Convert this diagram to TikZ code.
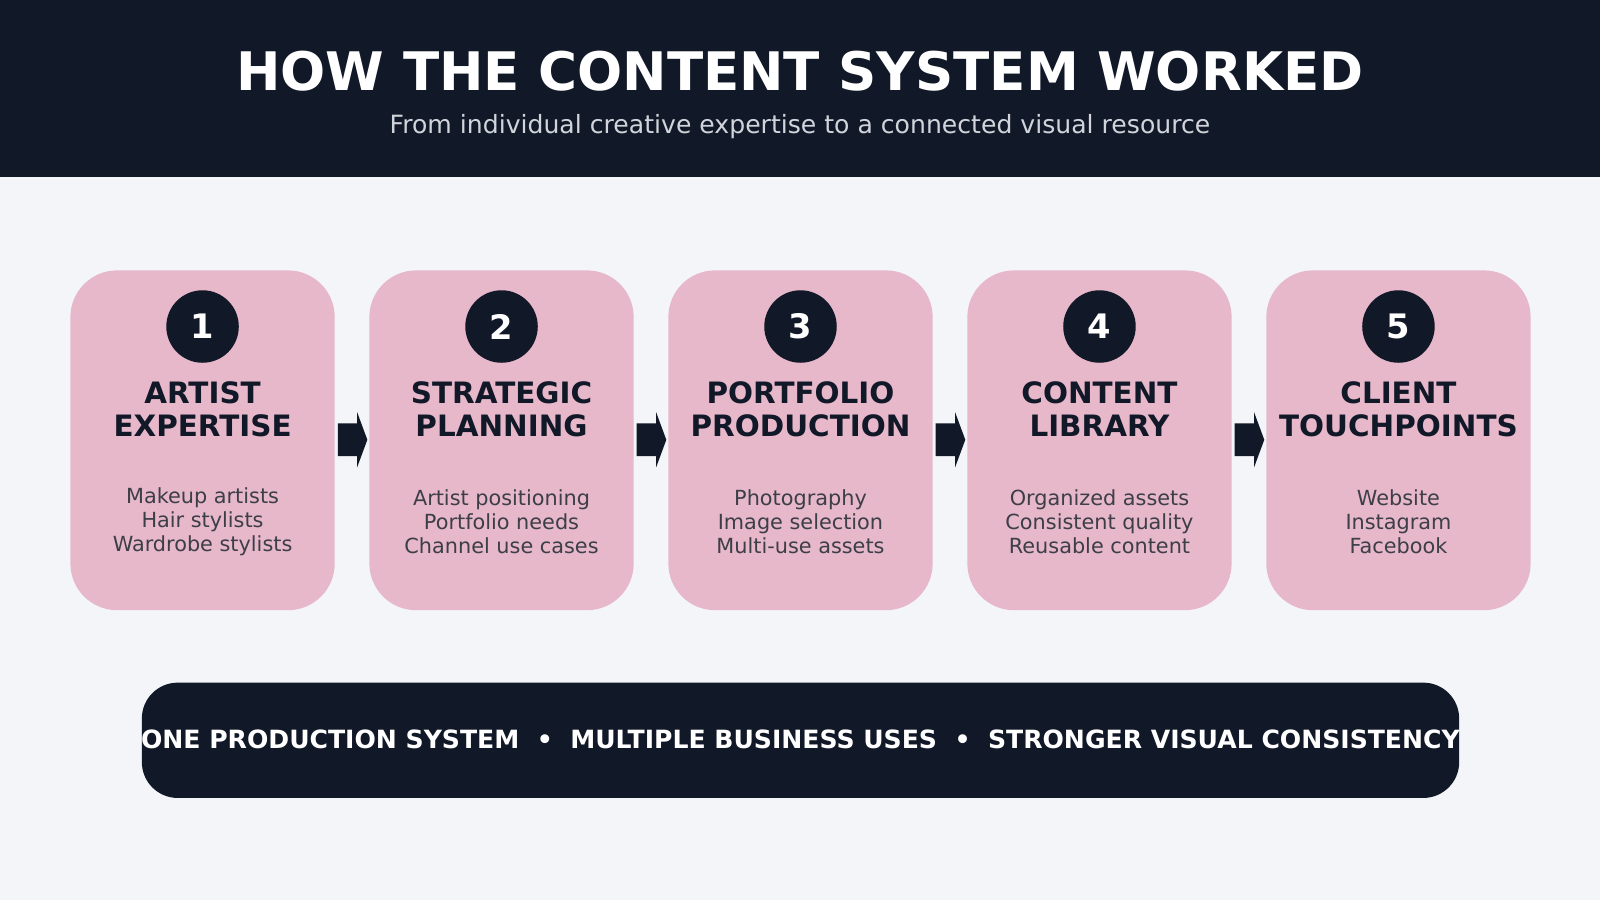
\documentclass[tikz,border=0pt]{standalone}
\usepackage{fontspec}
\setmainfont{DejaVu Sans}
\definecolor{ink}{RGB}{17, 24, 39}
\definecolor{blush}{RGB}{231, 183, 202}
\definecolor{paper}{RGB}{243, 245, 248}
\definecolor{slate}{RGB}{60, 62, 72}
\definecolor{mist}{RGB}{209, 213, 219}
\tikzset{
  card/.style={fill=blush, rounded corners=13pt},
  badge/.style={circle, fill=ink, minimum size=0.71cm, inner sep=0pt, text=white, font=\bfseries\fontsize{9.4}{10}\selectfont},
  heading/.style={align=center, text=ink, font=\bfseries\fontsize{8.2}{9.1}\selectfont},
  detail/.style={align=center, text=slate, font=\fontsize{5.8}{6.7}\selectfont},
}
\begin{document}
\begin{tikzpicture}[x=0.01cm, y=0.01cm]
  \fill[paper] (0,0) rectangle (1568,882);
  \fill[ink] (0,709) rectangle (1568,882);
  \node[text=white, font=\bfseries\fontsize{14.8}{16}\selectfont] (title) at (784,812) {HOW THE CONTENT SYSTEM WORKED};
  \node[text=mist, font=\fontsize{7}{8}\selectfont] (subtitle) at (784,758) {From individual creative expertise to a connected visual resource};
  % stage cards
  \foreach \i/\head/\body in {
      1/ARTIST\\EXPERTISE/Makeup artists\\Hair stylists\\Wardrobe stylists,
      2/STRATEGIC\\PLANNING/Artist positioning\\Portfolio needs\\Channel use cases,
      3/PORTFOLIO\\PRODUCTION/Photography\\Image selection\\Multi-use assets,
      4/CONTENT\\LIBRARY/Organized assets\\Consistent quality\\Reusable content,
      5/CLIENT\\TOUCHPOINTS/Website\\Instagram\\Facebook}{
    \pgfmathsetmacro{\cx}{198.5+293*(\i-1)}
    \fill[card] (\cx-129.5,284) rectangle (\cx+129.5,617);
    \node[badge] (num\i) at (\cx,562) {\i};
    \node[heading] (head\i) at (\cx,481) {\head};
    \node[detail] (body\i) at (\cx,371) {\body};
  }
  % arrows between cards
  \foreach \i in {1,...,4}{
    \pgfmathsetmacro{\ax}{331+293*(\i-1)}
    \fill[ink] (\ax,435) -- (\ax+19,435) -- (\ax+19,478) -- (\ax+29,451)
      -- (\ax+19,424) -- (\ax+19,467) -- (\ax,467) -- cycle;
  }
  \fill[ink, rounded corners=10pt] (139,100) rectangle (1430,213);
  \node[text=white, font=\bfseries\fontsize{7}{8}\selectfont] (tagline) at (784.5,157)
    {ONE PRODUCTION SYSTEM \ \textbullet\ \ MULTIPLE BUSINESS USES \ \textbullet\ \ STRONGER VISUAL CONSISTENCY};
\end{tikzpicture}
\end{document}
